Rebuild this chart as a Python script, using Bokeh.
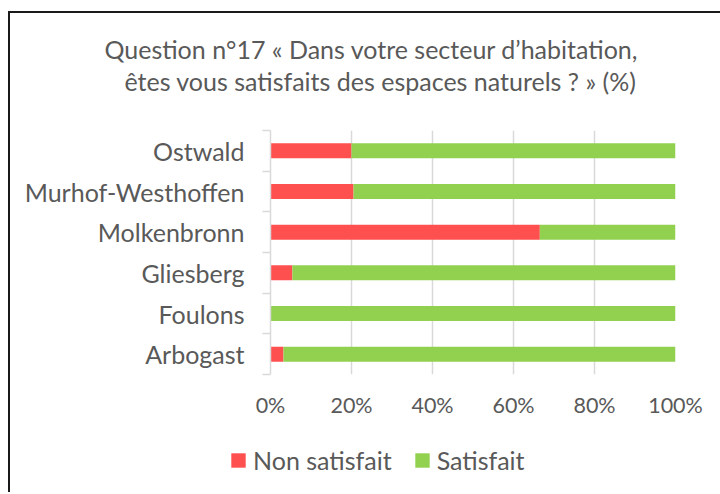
from bokeh.plotting import figure
from bokeh.layouts import column
from bokeh.models import (ColumnDataSource, FixedTicker, Label, Legend, LegendItem,
                          CustomJSTickFormatter, Range1d)
from bokeh.embed import file_html
from bokeh.resources import INLINE

# ---- data (bottom to top) ----
categories = ["Arbogast", "Foulons", "Gliesberg", "Molkenbronn", "Murhof-Westhoffen", "Ostwald"]
non_satisfait = [3.2, 0.0, 5.4, 66.5, 20.5, 20.0]
satisfait = [96.8, 100.0, 94.6, 33.5, 79.5, 80.0]
series_names = ["Non satisfait", "Satisfait"]
series_colors = ["#FF5050", "#92D050"]
x_ticks = [0, 20, 40, 60, 80, 100]
title_lines = ["Question n°17 « Dans votre secteur d’habitation,",
               "êtes vous satisfaits des espaces naturels ? » (%)"]

FONT = "Lato"
TXT = "#595959"
FS = "25px"
FS_TICK = "21.5px"
W = 710

ypos = [i + 0.5 for i in range(len(categories))]
source = ColumnDataSource(dict(y=ypos, non=non_satisfait, sat=satisfait))


def no_frame_align(f):
    try:
        f.frame_align = False
    except AttributeError:
        pass


def blank(height):
    f = figure(width=W, height=height, output_backend="svg", toolbar_location=None,
               x_axis_type=None, y_axis_type=None, x_range=(0, 1), y_range=(0, 1),
               min_border=0)
    f.outline_line_color = None
    f.border_fill_color = "white"
    f.background_fill_color = "white"
    no_frame_align(f)
    return f


# ---- title strip ----
tfig = blank(97)
for line, cx, cy in zip(title_lines, [361, 370], [62, 30]):
    tfig.add_layout(Label(x=cx, y=cy, x_units="screen", y_units="screen", text=line,
                          text_align="center", text_baseline="middle",
                          text_font=FONT, text_font_size=FS, text_color=TXT))

# ---- main chart ----
p = figure(width=W, height=320, output_backend="svg", toolbar_location=None,
           x_range=(0, 100), y_range=(0, len(categories)),
           min_border_left=260, min_border_right=45, min_border_top=20, min_border_bottom=56)
p.outline_line_color = None
p.background_fill_color = "white"
p.border_fill_color = "white"
no_frame_align(p)

p.hbar_stack(["non", "sat"], y="y", height=0.37, color=series_colors,
             source=source, line_color=None)

p.xaxis.ticker = FixedTicker(ticks=x_ticks)
p.xaxis.formatter = CustomJSTickFormatter(code="return tick + '%';")
p.xaxis.axis_line_color = None
p.xaxis.major_tick_line_color = None
p.xaxis.minor_tick_line_color = None
p.xaxis.major_label_text_font = FONT
p.xaxis.major_label_text_font_size = FS_TICK
p.xaxis.major_label_text_color = TXT
p.xaxis.major_label_standoff = 11

p.yaxis.ticker = FixedTicker(ticks=ypos, minor_ticks=list(range(len(categories) + 1)))
p.yaxis.major_label_overrides = {y: c for y, c in zip(ypos, categories)}
p.yaxis.axis_line_color = "#D9D9D9"
p.yaxis.axis_line_width = 1.5
p.yaxis.major_tick_line_color = None
p.yaxis.major_tick_out = 0
p.yaxis.major_tick_in = 0
p.yaxis.minor_tick_line_color = "#D9D9D9"
p.yaxis.minor_tick_line_width = 1.5
p.yaxis.minor_tick_out = 8
p.yaxis.minor_tick_in = 0
p.yaxis.major_label_text_font = FONT
p.yaxis.major_label_text_font_size = FS
p.yaxis.major_label_text_color = TXT
p.yaxis.major_label_standoff = 18

p.xgrid.grid_line_color = "#D9D9D9"
p.xgrid.grid_line_width = 1.5
p.xgrid.ticker = FixedTicker(ticks=x_ticks)
p.ygrid.grid_line_color = None

# ---- legend strip (its bars lie outside its visible range; only the legend shows) ----
lfig = blank(62)
lfig.y_range = Range1d(len(categories) + 10, len(categories) + 11)
lrs = lfig.hbar_stack(["non", "sat"], y="y", height=0.37, color=series_colors,
                      source=source, line_color=None)
legend = Legend(items=[LegendItem(label=n, renderers=[r]) for n, r in zip(series_names, lrs)],
                orientation="horizontal", location=(219, 17),
                glyph_width=18, glyph_height=18, label_standoff=6, spacing=21,
                padding=0, margin=0, border_line_color=None, background_fill_alpha=0,
                label_text_font=FONT, label_text_font_size=FS, label_text_color=TXT)
lfig.add_layout(legend)

layout = column(tfig, p, lfig, spacing=0)
layout.styles = {"margin-left": "8px", "margin-top": "11px",
                 "border-left": "2px solid #1A1A1A", "border-top": "2px solid #1A1A1A"}

open("out.html", "w").write(file_html(layout, INLINE))
